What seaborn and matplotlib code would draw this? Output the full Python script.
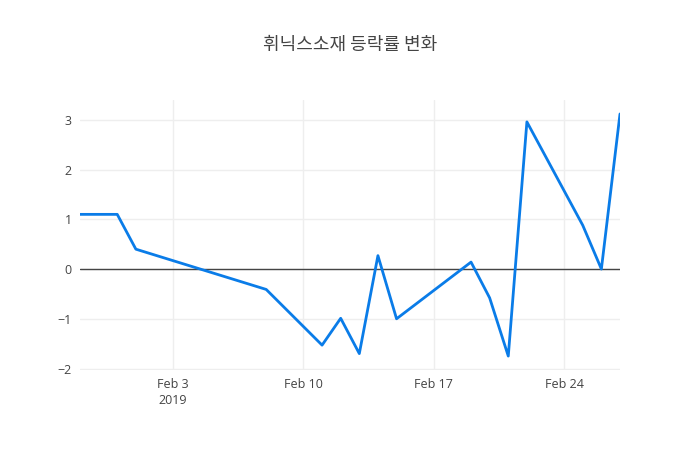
import pandas as pd
import matplotlib.pyplot as plt
import seaborn as sns

# daily change rate (%)
dates = ['2019-01-29', '2019-01-31', '2019-02-01', '2019-02-08', '2019-02-11',
         '2019-02-12', '2019-02-13', '2019-02-14', '2019-02-15', '2019-02-19',
         '2019-02-20', '2019-02-21', '2019-02-22', '2019-02-25', '2019-02-26',
         '2019-02-27']
rates = [1.10, 1.10, 0.40, -0.41, -1.53, -0.99, -1.70, 0.27, -1.00, 0.14,
         -0.58, -1.75, 2.96, 0.88, 0.00, 3.12]
yticks = [-2, -1, 0, 1, 2, 3]
xtick_dates = ['2019-02-03', '2019-02-10', '2019-02-17', '2019-02-24']
xtick_labels = ['Feb 3\n2019', 'Feb 10', 'Feb 17', 'Feb 24']
title = '휘닉스소재 등락률 변화'

df = pd.DataFrame({'date': pd.to_datetime(dates), 'rate': rates})

sns.set_theme(style="white")
plt.rcParams['font.family'] = ['Open Sans', 'Noto Sans CJK KR', 'DejaVu Sans']

fig = plt.figure(figsize=(7, 4.5), dpi=100)
ax = fig.add_axes([80 / 700, 80 / 450, 540 / 700, 270 / 450])

sns.lineplot(data=df, x='date', y='rate', ax=ax, color='#0a7ce8', linewidth=2)
ax.axhline(0, color='#444444', linewidth=1, zorder=1)

ax.set_xlim(df['date'].min(), df['date'].max())
ax.set_ylim(-2.03, 3.40)
ax.set_yticks(yticks)
ax.set_yticklabels([str(v).replace('-', '\u2212') for v in yticks])

ax.set_xticks(pd.to_datetime(xtick_dates))
ax.set_xticklabels(xtick_labels, linespacing=1.25)

ax.grid(True, color='#eeeeee', linewidth=1)
ax.set_axisbelow(True)
for s in ax.spines.values():
    s.set_visible(False)
ax.tick_params(axis='both', length=0, labelsize=9, colors='#444444', pad=6)
ax.set_xlabel('')
ax.set_ylabel('')

fig.text(0.5, 1 - 45 / 450, title, ha='center', va='center', fontsize=13,
         color='#444444', family=['Noto Sans CJK KR', 'DejaVu Sans'])

fig.savefig('out.png', dpi=100)
